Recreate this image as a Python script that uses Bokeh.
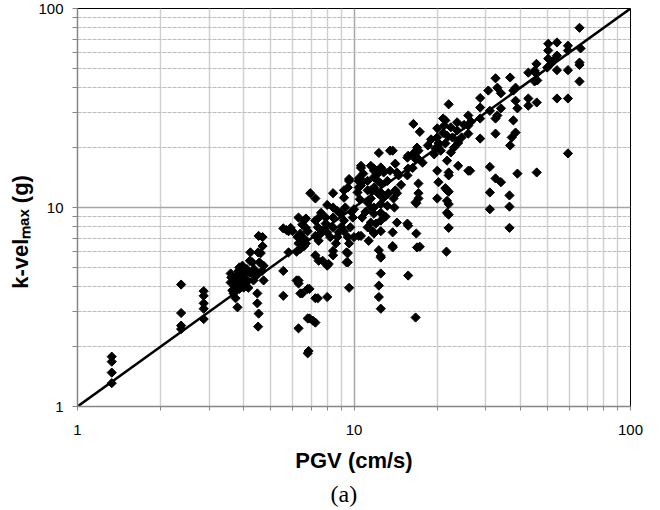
import math
from bokeh.plotting import figure
from bokeh.models import Range1d, FixedTicker, PrintfTickFormatter, Title
from bokeh.embed import file_html
from bokeh.resources import INLINE

# ---- data ----
pgv = [
    1.33, 1.33, 1.33, 1.33,
    2.37, 2.37, 2.37, 2.37,
    2.86, 2.86, 2.86, 2.86, 2.86,
    3.58, 3.58, 3.63, 3.67, 3.79, 3.82, 3.95, 3.95, 3.99, 4.12, 4.22, 4.29, 4.22, 4.33, 4.47, 4.6, 4.67, 4.67, 4.52,
    4.71, 4.71, 4.47, 3.73, 3.79, 4.47, 4.52, 4.5,
    3.7, 3.75, 3.85, 3.9, 4.0, 4.05, 4.1, 4.15, 4.35, 4.4, 4.55, 4.2, 4.5, 3.85, 4.65, 3.6,
    5.55, 5.55, 5.55, 5.8, 5.9, 5.8, 6.3, 6.6, 6.4, 6.6, 6.3, 6.7, 6.4, 6.8, 6.25, 6.3, 6.3, 6.5, 6.9, 7.25, 7.4,
    6.2, 6.4, 6.8, 6.8, 7.1, 6.3, 6.8, 6.85, 6.95, 7.25, 6.7, 5.7, 6.0, 6.5, 6.6, 6.2, 6.7, 6.5,
    7.25, 7.4, 7.6, 7.25, 7.45, 7.9, 8.0, 8.2, 8.4, 8.4, 8.7, 8.6, 8.95, 9.2, 9.2, 9.5, 9.6, 9.7, 9.9, 10.0,
    9.4, 9.4, 9.6, 7.25, 7.45, 8.1, 8.4, 8.4, 9.5, 9.5, 8.0, 8.4, 8.0, 9.2, 9.3, 8.95, 9.2, 9.5, 8.4, 8.7,
    7.9, 7.4, 7.6, 9.6, 9.6, 8.0, 7.7, 6.9, 7.25, 9.0, 8.8, 7.8, 9.8, 10.0,
    10.4, 10.7, 10.4, 11.3, 11.8, 12.5, 12.3, 12.5, 13.8, 13.8, 10.7, 11.5, 11.8, 12.5, 11.2, 12.0, 14.3,
    12.5, 12.3, 12.3, 12.5, 12.3, 13.8, 10.6, 11.8, 12.5, 12.8, 14.1, 14.3, 10.4, 10.6, 10.3, 11.2, 11.8,
    12.2, 12.5, 12.7, 11.5, 14.1, 14.3, 11.2, 11.8, 12.5, 13.2, 11.5, 12.2, 12.8, 13.3, 13.9, 11.2, 12.5,
    11.8, 13.2, 11.8, 12.8, 13.5, 10.8, 12.2, 10.4, 10.6, 11.5, 10.6, 13.5, 10.6, 11.7, 12.5, 11.5,
    12.5, 13.8, 10.5, 11.0, 13.0, 14.0, 14.8, 14.5,
    15.7, 16.4, 16.9, 16.9, 16.4, 17.3, 15.6, 17.1, 17.7, 15.6, 16.3, 16.7, 15.7, 17.1, 17.1, 16.7, 15.7,
    16.9, 15.7, 16.7, 16.8, 17.3, 17.1, 16.8, 15.6,
    20.0, 21.7, 22.0, 23.8, 26.3, 20.2, 21.4, 22.0, 20.0, 22.0, 21.7, 22.0, 22.0, 21.6, 21.7, 21.7, 22.0,
    21.4, 23.6, 23.8, 25.9, 20.0, 20.0, 20.2, 21.4, 22.4, 20.6, 21.0, 22.4, 22.7, 21.7, 20.2, 19.7, 21.2,
    23.0, 23.6, 23.8, 22.0, 21.0, 18.5, 19.0, 19.5, 24.5, 25.0,
    25.9, 25.9, 28.6, 28.6, 32.5, 33.0, 32.5, 37.7, 38.4, 37.2, 36.7, 31.0, 32.5, 34.0, 39.0, 31.0, 31.0,
    36.5, 36.5, 36.5, 28.6, 28.6, 31.0, 34.0, 38.4, 39.0, 30.6, 33.0, 34.0, 37.7, 38.4, 32.5, 36.7, 42.7,
    45.0, 45.0, 42.7, 42.7, 45.8, 45.8, 25.9, 26.5,
    65.4, 50.4, 54.2, 59.4, 50.4, 54.2, 59.4, 66.0, 50.4, 51.5, 52.6, 50.0, 54.2, 59.4, 65.4, 65.4, 45.7,
    46.0, 65.4, 54.2, 59.4, 59.4, 45.7,
]
kvel = [
    1.78, 1.68, 1.48, 1.31,
    4.1, 2.95, 2.55, 2.45,
    3.8, 3.6, 3.3, 3.1, 2.75,
    4.66, 4.2, 3.83, 3.7, 4.3, 4.8, 5.1, 4.45, 3.96, 4.3, 4.7, 5.3, 5.95, 4.3, 4.66, 5.9, 6.4, 7.1, 7.2,
    5.1, 4.3, 3.7, 3.5, 3.15, 3.3, 2.93, 2.52,
    4.0, 4.5, 3.9, 4.1, 4.6, 4.2, 4.9, 3.95, 4.9, 4.5, 5.3, 5.4, 5.95, 5.0, 4.8, 4.45,
    4.8, 3.6, 7.85, 7.6, 7.9, 5.95, 8.9, 8.6, 7.4, 7.0, 6.6, 6.6, 6.2, 7.6, 7.1, 4.3, 4.15, 3.7, 3.9, 3.5, 3.5,
    4.3, 3.7, 3.9, 2.77, 2.7, 2.47, 1.85, 1.9, 11.8, 11.1, 8.8, 7.7, 7.6, 6.9, 6.4, 6.0, 7.9, 8.2,
    8.6, 7.95, 7.4, 7.2, 6.8, 8.3, 7.5, 7.1, 8.9, 7.95, 7.1, 6.6, 9.3, 8.6, 7.6, 7.1, 6.6, 7.95, 8.9, 7.1,
    5.95, 5.3, 3.95, 5.75, 5.4, 5.2, 5.75, 6.05, 5.9, 5.3, 3.55, 11.8, 10.3, 11.2, 10.0, 9.4, 12.2, 12.6, 10.0, 9.6,
    8.9, 8.8, 9.4, 13.6, 13.9, 5.1, 5.4, 2.77, 2.64, 8.0, 7.5, 7.8, 9.5, 9.8,
    12.6, 13.6, 7.2, 6.8, 7.4, 9.4, 6.1, 5.6, 7.5, 6.3, 8.9, 10.0, 9.3, 8.6, 7.95, 8.3, 8.4,
    4.66, 4.05, 3.55, 3.1, 18.8, 19.3, 16.2, 15.7, 15.9, 15.3, 16.6, 15.0, 14.0, 13.2, 11.9, 12.2, 12.6,
    13.6, 11.9, 11.2, 11.1, 12.2, 11.8, 13.6, 14.2, 13.2, 13.6, 12.2, 11.8, 11.2, 11.8, 11.1, 10.6, 10.4,
    10.0, 10.2, 15.3, 15.0, 15.3, 14.8, 14.8, 13.6, 12.9, 16.2, 15.8, 19.3, 7.2, 7.6, 7.6, 8.4,
    5.7, 6.4, 11.0, 9.5, 9.0, 10.0, 13.0, 14.5,
    18.2, 18.7, 17.8, 20.0, 26.3, 24.0, 17.8, 19.3, 16.8, 14.5, 15.8, 17.5, 15.7, 13.2, 11.1, 10.6, 8.1,
    6.3, 4.55, 2.8, 7.4, 6.35, 11.8, 10.5, 8.3,
    15.3, 17.2, 15.0, 16.2, 15.3, 13.4, 12.5, 12.0, 11.1, 10.4, 9.4, 9.2, 7.9, 6.0, 12.2, 10.8, 14.5,
    27.4, 26.8, 21.6, 23.5, 25.0, 22.5, 20.0, 21.0, 18.9, 19.3, 23.7, 25.3, 22.5, 23.0, 21.1, 19.8, 25.8,
    20.0, 24.4, 21.1, 33.0, 28.0, 20.5, 22.0, 18.5, 22.5, 26.0,
    29.0, 25.8, 28.0, 22.2, 28.0, 29.0, 23.5, 27.4, 23.8, 22.5, 20.5, 16.0, 14.0, 13.4, 14.8, 11.9, 9.8,
    11.5, 10.1, 7.9, 35.5, 31.8, 30.6, 31.5, 34.4, 31.5, 38.7, 40.0, 37.5, 38.7, 40.0, 44.6, 45.0, 47.6,
    48.7, 43.0, 35.3, 32.5, 33.7, 15.0, 15.3, 27.0,
    80.0, 66.5, 67.5, 65.0, 61.5, 58.0, 61.5, 63.0, 56.0, 52.7, 54.7, 50.5, 49.0, 49.0, 53.5, 52.0, 52.7,
    43.5, 43.0, 35.3, 35.3, 18.7, 47.0,
]
one_to_one = [1, 100]          # y = x reference line
major_ticks = [1, 10, 100]
minor_ticks = [2, 3, 4, 5, 6, 7, 8, 9, 20, 30, 40, 50, 60, 70, 80, 90]

FONT = "Liberation Sans"

p = figure(width=660, height=510, x_axis_type="log", y_axis_type="log",
           x_range=Range1d(1, 100), y_range=Range1d(1, 100),
           output_backend="svg", toolbar_location=None,
           min_border_left=77, min_border_right=30, min_border_top=8, min_border_bottom=104,
           background_fill_color="white", border_fill_color="white")

p.outline_line_color = "black"
p.outline_line_width = 1

ticker = FixedTicker(ticks=major_ticks, minor_ticks=minor_ticks)
for ax in (p.xaxis, p.yaxis):
    ax.ticker = ticker
    ax.formatter = PrintfTickFormatter(format="%d")
p.xgrid.ticker = ticker
p.ygrid.ticker = ticker

p.xgrid.grid_line_color = "#a6a6a6"
p.xgrid.grid_line_width = 1.5
p.xgrid.minor_grid_line_color = "#d0d0d0"
p.xgrid.minor_grid_line_width = 1.5
p.ygrid.grid_line_color = "#a6a6a6"
p.ygrid.grid_line_width = 1.5
p.ygrid.minor_grid_line_color = "#bdbdbd"
p.ygrid.minor_grid_line_width = 1
p.ygrid.minor_grid_line_dash = "4 1"

p.axis.axis_line_color = "#868686"
p.axis.axis_line_width = 1.5
p.axis.major_tick_line_color = "#868686"
p.axis.minor_tick_line_color = "#868686"
p.axis.major_tick_in = 0
p.axis.minor_tick_in = 0
p.yaxis.major_tick_out = 5
p.yaxis.minor_tick_out = 5
p.xaxis.major_tick_out = 4
p.xaxis.minor_tick_out = 4
p.axis.major_label_text_font = FONT
p.axis.major_label_text_font_size = "15px"
p.axis.major_label_text_color = "black"
p.yaxis.major_label_standoff = 9
p.xaxis.major_label_standoff = 14

p.xaxis.axis_label = "PGV (cm/s)"
p.xaxis.axis_label_text_font = FONT
p.xaxis.axis_label_text_font_style = "bold"
p.xaxis.axis_label_text_font_size = "22px"
p.xaxis.axis_label_text_color = "black"
p.xaxis.axis_label_standoff = 10

# y-axis title: "k-vel" with subscript "max", then "(g)"
# (trailing no-break spaces shift the title down as in the reference)
p.yaxis.axis_label = "k-vel\u2098\u2090\u2093 (g)" + "\u00a0" * 8
p.yaxis.axis_label_text_font = FONT
p.yaxis.axis_label_text_font_style = "bold"
p.yaxis.axis_label_text_font_size = "22px"
p.yaxis.axis_label_text_color = "black"
p.yaxis.axis_label_standoff = 2

p.line(one_to_one, one_to_one, line_color="black", line_width=2.5)
p.scatter(pgv, kvel, marker="square", angle=math.pi / 4, size=6.5,
          fill_color="black", line_color="black")

caption = Title(text="(a)", align="left", offset=253, standoff=6,
                text_font="Liberation Serif", text_font_size="24px",
                text_font_style="normal", text_color="black")
p.add_layout(caption, "below")

open("out.html", "w").write(file_html(p, INLINE))
